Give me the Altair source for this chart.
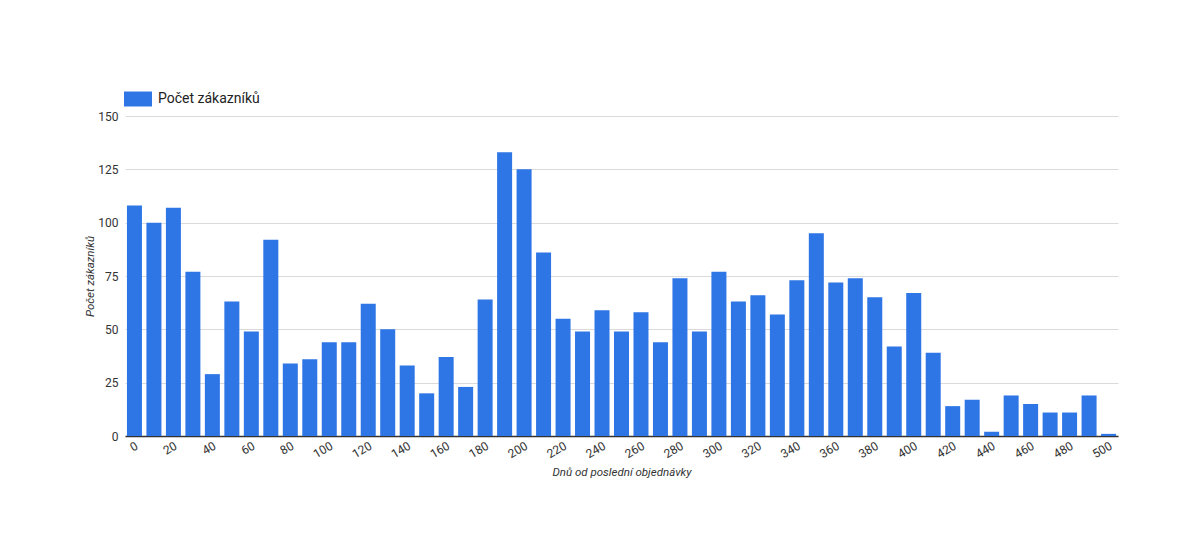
import altair as alt
import pandas as pd

days = list(range(0, 510, 10))
customers = [108, 100, 107, 77, 29, 63, 49, 92, 34, 36,
             44, 44, 62, 50, 33, 20, 37, 23, 64, 133,
             125, 86, 55, 49, 59, 49, 58, 44, 74, 49,
             77, 63, 66, 57, 73, 95, 72, 74, 65, 42,
             67, 39, 14, 17, 2, 19, 15, 11, 11, 19,
             1]
series_name = "Počet zákazníků"
y_ticks = [0, 25, 50, 75, 100, 125, 150]

df = pd.DataFrame({"dny": days, "pocet": customers, "serie": series_name})

FONT = "Roboto"
BLUE = "#2e75e6"

chart = alt.Chart(df).mark_bar(color=BLUE).encode(
    x=alt.X("dny:O", sort=days,
            scale=alt.Scale(paddingInner=0.23, paddingOuter=0.1),
            axis=alt.Axis(title="Dnů od poslední objednávky",
                          labelExpr="datum.value % 20 == 0 ? datum.label : ''",
                          labelAngle=330, labelFontSize=12, labelColor="#333333",
                          labelFont=FONT, labelPadding=4,
                          ticks=False, domainColor="#333333", domainWidth=1.5,
                          titleFont=FONT, titleFontSize=11.5, titleFontStyle="italic",
                          titleFontWeight="normal", titleColor="#333333",
                          titlePadding=7, grid=False)),
    y=alt.Y("pocet:Q", scale=alt.Scale(domain=[0, 150], nice=False),
            axis=alt.Axis(title="Počet zákazníků", values=y_ticks,
                          labelFontSize=12, labelColor="#333333", labelFont=FONT,
                          labelPadding=7, ticks=False, domain=False,
                          gridColor="#dadada", gridWidth=1,
                          titleFont=FONT, titleFontSize=11.5, titleFontStyle="italic",
                          titleFontWeight="normal", titleColor="#333333",
                          titlePadding=2)),
    color=alt.Color("serie:N", scale=alt.Scale(range=[BLUE]),
                    legend=alt.Legend(title=None, orient="none",
                                      legendX=-1, legendY=-31,
                                      symbolType="M-1,-0.535H1V0.535H-1Z",
                                      symbolSize=784, symbolStrokeWidth=0,
                                      symbolOpacity=1,
                                      labelFont=FONT, labelFontSize=14,
                                      labelColor="#222222", labelOffset=6)),
).properties(
    width=993, height=320,
    autosize=alt.AutoSizeParams(type="none"),
    padding={"left": 117, "top": 108, "right": 60, "bottom": 100},
    background="#ffffff",
).configure_view(stroke=None)

chart.save("out.html", embed_options={"renderer": "svg", "actions": False})
